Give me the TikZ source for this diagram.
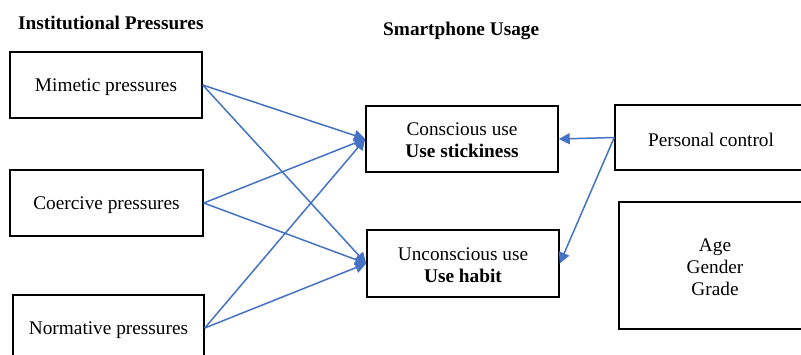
\documentclass[tikz,border=0pt]{standalone}
\usepackage{fontspec}
\setmainfont{Liberation Serif}
\usetikzlibrary{arrows.meta}
\definecolor{arrowblue}{RGB}{68,114,196}
\tikzset{
  box/.style={draw=black, line width=1.5pt, minimum width=192pt, minimum height=66pt,
    inner sep=0pt},
  boxtext/.style={inner sep=0pt, align=center, yshift=-2pt,
    font=\fontsize{19.3}{22}\selectfont},
  title/.style={inner sep=0pt, anchor=base west, font=\fontsize{19.3}{22}\selectfont\bfseries},
  link/.style={draw=arrowblue, line width=1.5pt, -{Triangle[length=11pt,width=11pt]}}
}
\begin{document}
\begin{tikzpicture}[x=1pt,y=-1pt]
\useasboundingbox (0,0) rectangle (801,354);
\clip (0,0) rectangle (801,354);
\node[title] (t1) at (18,29) {Institutional Pressures};
\node[title] (t2) at (383,35) {Smartphone Usage};

\node[box, label={[boxtext]center:{Mimetic pressures}}] (mim) at (106,85) {};
\node[box, minimum width=193pt, label={[boxtext]center:{Coercive pressures}}] (coe) at (106.5,203) {};
\node[box, minimum width=191pt, label={[boxtext]center:{Normative pressures}}] (nor) at (108.5,328) {};

\node[box, label={[boxtext, yshift=1pt]center:{Conscious use\\\textbf{Use stickiness}}}] (con) at (462,139) {};
\node[box, minimum height=67pt, label={[boxtext]center:{Unconscious use\\\textbf{Use habit}}}] (unc) at (463,263.5) {};

\node[box, minimum height=65pt, label={[boxtext]center:{Personal control}}] (per) at (711,137.5) {};
\node[box, minimum height=127pt, label={[boxtext, yshift=0.5pt]center:{Age\\Gender\\Grade}}] (dem) at (715,265.5) {};

\draw[link] (mim.east) -- (con.west);
\draw[link] (mim.east) -- (unc.west);
\draw[link] (coe.east) -- (con.west);
\draw[link] (coe.east) -- (unc.west);
\draw[link] (nor.east) -- (con.west);
\draw[link] (nor.east) -- (unc.west);
\draw[link] (per.west) -- (con.east);
\draw[link] (per.west) -- (unc.east);
\end{tikzpicture}
\end{document}
